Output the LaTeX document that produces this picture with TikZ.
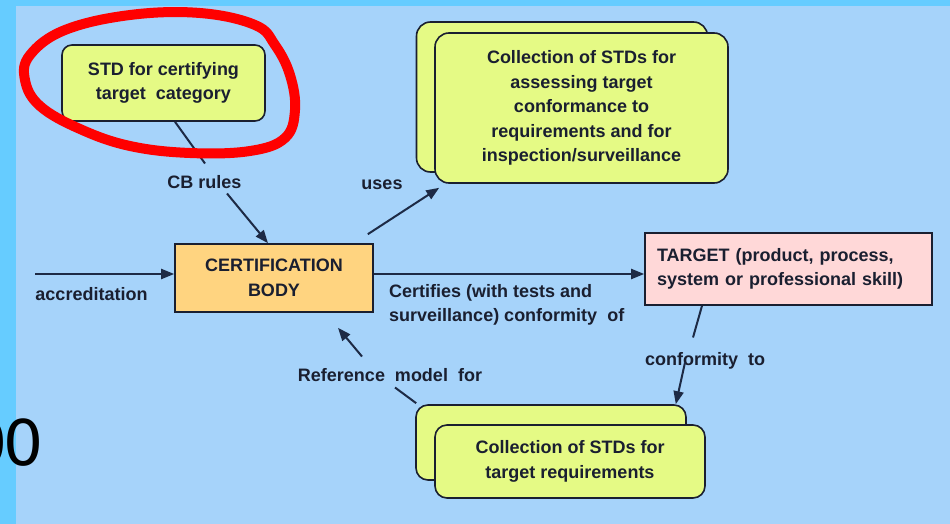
\documentclass[tikz,border=0pt]{standalone}
\usepackage{fontspec}
\setmainfont{Liberation Sans}
\newfontfamily\digitfont{DejaVu Sans}
\usetikzlibrary{arrows.meta}

\definecolor{slidecyan}{HTML}{66CCFF}
\definecolor{panelblue}{HTML}{A6D3FA}
\definecolor{stdgreen}{HTML}{E5FA85}
\definecolor{cborange}{HTML}{FFD480}
\definecolor{targetpink}{HTML}{FFD8D8}
\definecolor{inkdark}{HTML}{1A1F30}
\definecolor{linedark}{HTML}{1D2A45}

\begin{document}
\begin{tikzpicture}[x=1pt, y=-1pt,
  every node/.style={font=\fontsize{18}{24.5}\selectfont\bfseries, text=inkdark},
  boxline/.style={draw=inkdark, line width=1.6pt},
  stdbox/.style={boxline, fill=stdgreen, align=center, inner sep=0pt},
  lbl/.style={inner sep=0pt, text height=13pt, text depth=0pt},
  conn/.style={draw=linedark, line width=2pt},
  arr/.style={conn, -{Triangle[length=13pt, width=10pt]}}
]
% slide background and diagram panel
\useasboundingbox (0,0) rectangle (950,524);
\clip (0,0) rectangle (950,524);
\fill[slidecyan] (0,0) rectangle (950,524);
\fill[panelblue] (16,6) rectangle (950,524);

% page number of the slide, partly hidden at the left edge
\node[font=\digitfont\fontsize{63}{63}\selectfont, text=black, anchor=base east, inner sep=0pt] (pagenum) at (44,465) {0\kern-4pt 0};

% boxes
\node[stdbox, rounded corners=10pt, minimum width=203, minimum height=76] (std) at (163.5,83)
  {STD for certifying\\target\ \ category};

\node[boxline, fill=cborange, align=center, minimum width=198, minimum height=68, inner sep=0pt] (cb) at (274,278)
  {CERTIFICATION\\BODY};

\node[stdbox, rounded corners=14pt, minimum width=291, minimum height=150] (useback) at (562,97) {};
\node[stdbox, rounded corners=14pt, minimum width=293, minimum height=150] (usefront) at (581.5,108)
  {Collection of STDs for\\assessing target\\conformance to\\requirements and for\\inspection/surveillance};

\node[boxline, fill=targetpink, align=left, text width=263, inner xsep=12pt, inner ysep=0pt, minimum height=72] (target) at (788.5,269)
  {TARGET (product, process,\\system or professional skill)};

\node[stdbox, rounded corners=12pt, minimum width=270, minimum height=75] (reqback) at (551,442.5) {};
\node[stdbox, rounded corners=12pt, minimum width=270, minimum height=73] (reqfront) at (570,461.5)
  {Collection of STDs for\\target requirements};

% connector labels
\node[lbl] (cbrules) at (204.5,181.5) {CB rules};
\node[lbl] (uses) at (382,182.5) {uses};
\node[lbl] (accr) at (91.5,293.5) {accreditation};
\node[anchor=west, align=left, inner sep=0pt] (certl) at (389,305)
  {Certifies (with tests and\\surveillance)\ conformity\ \ of};
\node[lbl] (conf) at (705,358.5) {conformity\ \ to};
\node[lbl] (refm) at (390,374.5) {Reference\ \ model\ \ for};

% connectors
\coordinate (accstart) at (35,274);
\coordinate (certsrc) at ([shift={(0,-4)}]cb.east);

\draw[conn] ([shift={(11.5,0)}]std.south) -- ([shift={(0.5,-18)}]cbrules.center);
\draw[arr] ([shift={(22.5,12)}]cbrules.center) -- ([shift={(-6,0)}]cb.north);

\draw[arr] ([shift={(-6,-9)}]cb.north east) -- ([shift={(5,4)}]usefront.south west);

\draw[arr] (accstart) -- (accstart -| cb.west);

\draw[arr] (certsrc) -- (certsrc -| target.west);

\draw[conn] ([shift={(-86.5,0)}]target.south) -- ([shift={(-12,-21)}]conf.center);
\draw[arr] ([shift={(-20,4)}]conf.center) -- ([shift={(-11,0)}]reqback.north east);

\draw[conn] ([shift={(1,-1)}]reqback.north west) -- ([shift={(5,13)}]refm.center);
\draw[arr] ([shift={(-28,-18)}]refm.center) -- ([shift={(64,15)}]cb.south);

% hand-drawn red loop around the top-left box
\draw[red, line width=10pt, line cap=round, line join=round]
  plot[smooth cycle, tension=0.65] coordinates {
    (30,55) (65,30) (130,15) (200,13) (255,25) (275,45) (290,75)
    (295,110) (285,138) (250,151) (190,153) (130,146) (80,129) (40,106) (25,80)};
\end{tikzpicture}
\end{document}
